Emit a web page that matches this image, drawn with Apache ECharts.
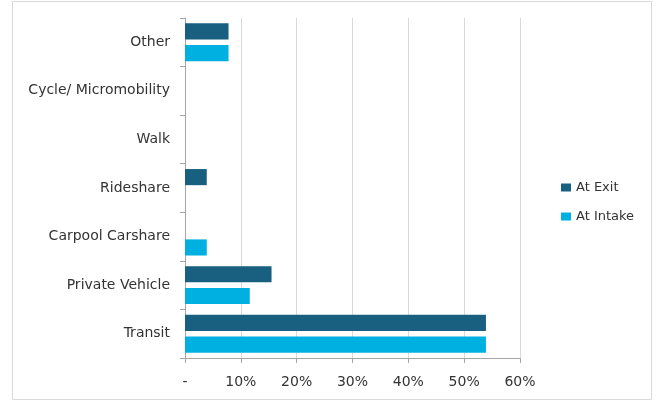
<!DOCTYPE html>
<html>
<head>
<meta charset="utf-8">
<script src="https://cdn.jsdelivr.net/npm/echarts@6/dist/echarts.min.js"></script>
<style>
  html, body { margin: 0; padding: 0; background: #fff; }
  #chart { width: 658px; height: 403px; }
</style>
</head>
<body>
<div id="chart"></div>
<script>
// Travel mode shares (percent), listed bottom to top
const categories = ['Transit', 'Private Vehicle', 'Carpool Carshare', 'Rideshare', 'Walk', 'Cycle/ Micromobility', 'Other'];
const atExit   = [53.9, 15.5, 0, 3.9, 0, 0, 7.8];
const atIntake = [53.9, 11.6, 3.9, 0, 0, 0, 7.8];
const xTicks = [0, 10, 20, 30, 40, 50, 60];

const FONT = '"DejaVu Sans", "Open Sans", sans-serif';
const chart = echarts.init(document.getElementById('chart'));

chart.setOption({
  animation: false,
  textStyle: { fontFamily: FONT },
  graphic: [{
    type: 'rect',
    shape: { x: 12.5, y: 1.5, width: 639, height: 398 },
    style: { fill: 'none', stroke: '#D9D9D9', lineWidth: 1 },
    silent: true
  }],
  legend: {
    orient: 'vertical',
    left: 556,
    top: 176,
    itemWidth: 10,
    itemHeight: 8,
    itemGap: 16,
    icon: 'rect',
    data: ['At Exit', 'At Intake'],
    textStyle: { fontFamily: FONT, fontSize: 13, color: '#333333' }
  },
  grid: { left: 185, right: 138, top: 18, bottom: 45, containLabel: false },
  xAxis: {
    type: 'value',
    min: xTicks[0],
    max: xTicks[xTicks.length - 1],
    interval: 10,
    axisLine: { show: true, lineStyle: { color: '#A6A6A6' } },
    axisTick: { show: true, length: 5, lineStyle: { color: '#A6A6A6' } },
    splitLine: { show: true, lineStyle: { color: '#D9D9D9' } },
    axisLabel: {
      margin: 17,
      fontSize: 14,
      color: '#333333',
      fontFamily: FONT,
      formatter: v => v === 0 ? '-' : v + '%'
    }
  },
  yAxis: {
    type: 'category',
    data: categories,
    axisLine: { show: true, lineStyle: { color: '#A6A6A6' } },
    axisTick: { show: true, length: 5, lineStyle: { color: '#A6A6A6' } },
    axisLabel: { margin: 15, fontSize: 14, color: '#333333', fontFamily: FONT }
  },
  series: [
    {
      name: 'At Exit',
      type: 'bar',
      data: atExit,
      barGap: '35%',
      barCategoryGap: '22%',
      itemStyle: { color: '#195F80' }
    },
    {
      name: 'At Intake',
      type: 'bar',
      data: atIntake,
      barGap: '35%',
      barCategoryGap: '22%',
      itemStyle: { color: '#00B0E0' }
    }
  ]
});
</script>
</body>
</html>
